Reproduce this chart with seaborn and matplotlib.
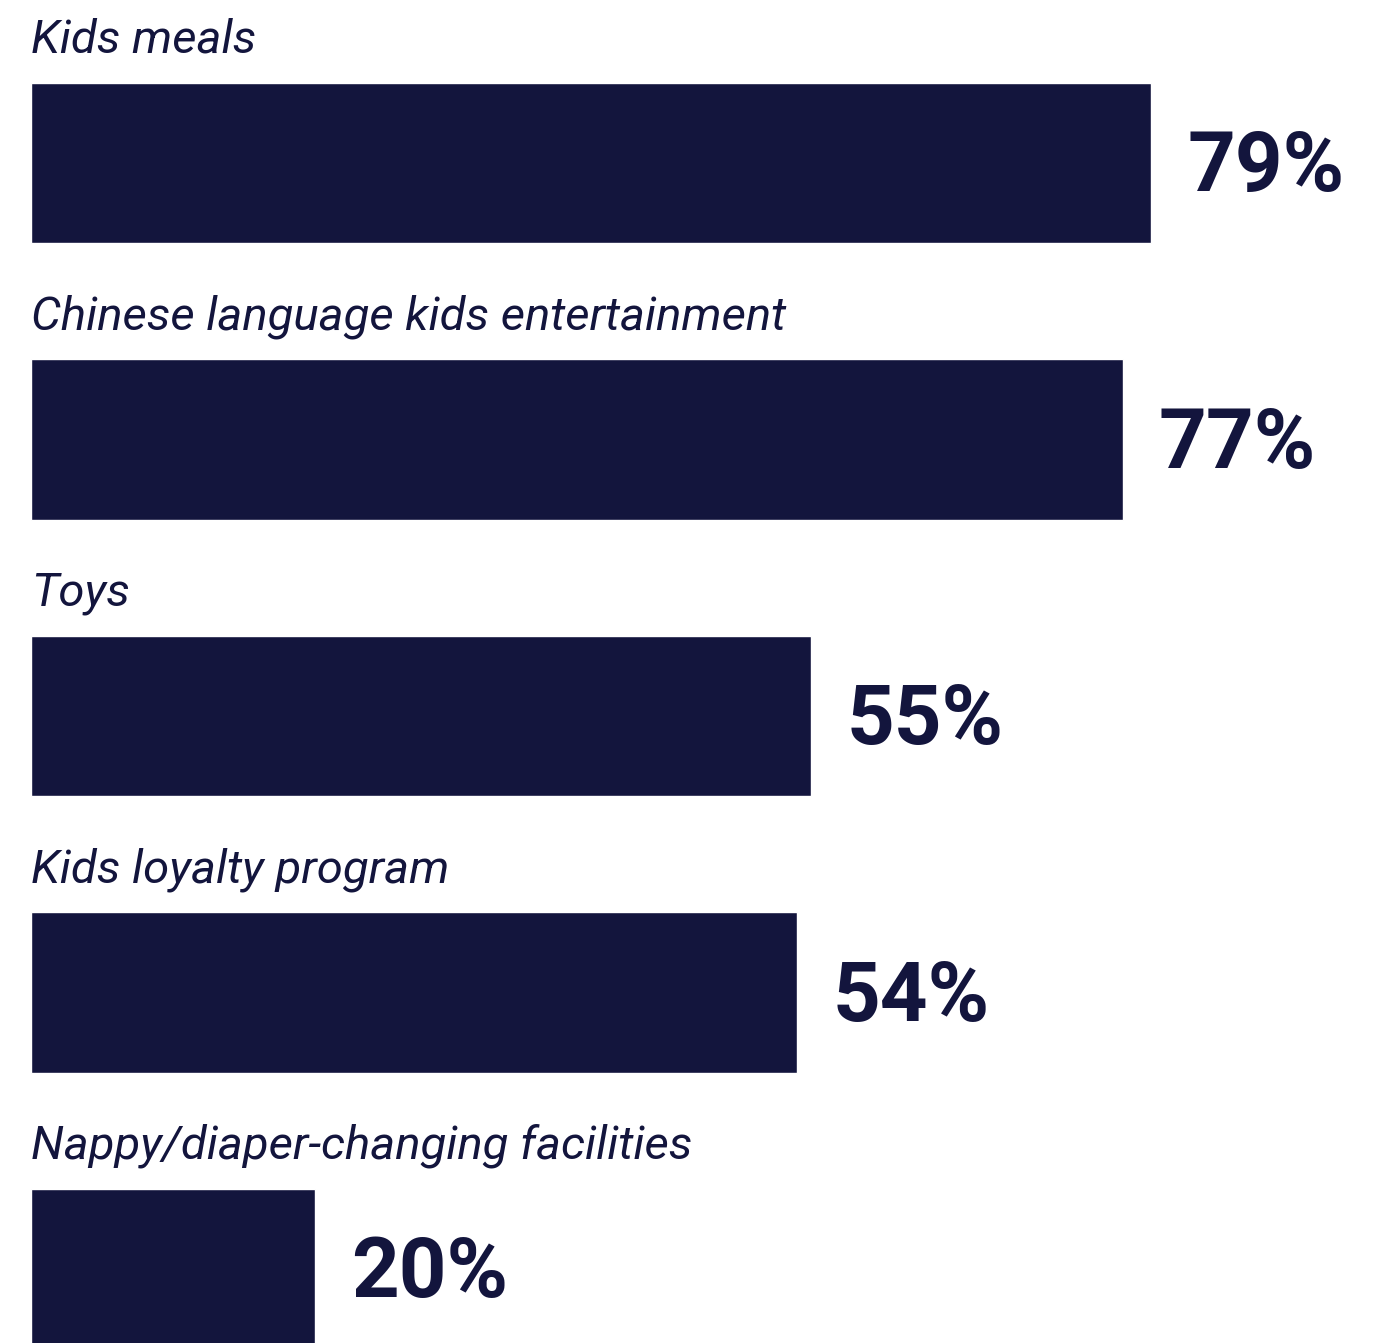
import matplotlib
matplotlib.use("Agg")
import matplotlib.pyplot as plt
import seaborn as sns
import pandas as pd

# Survey results: share of respondents wanting each kids amenity
categories = [
    "Kids meals",
    "Chinese language kids entertainment",
    "Toys",
    "Kids loyalty program",
    "Nappy/diaper-changing facilities",
]
values = [79, 77, 55, 54, 20]
value_labels = ["79%", "77%", "55%", "54%", "20%"]

navy = "#13153D"

sns.set_theme(style="white")
plt.rcParams["font.family"] = ["Roboto", "DejaVu Sans"]

df = pd.DataFrame({"category": categories, "value": values})

W, H = 1391, 1343
fig = plt.figure(figsize=(W / 100, H / 100), dpi=100)
left_px = 31
ax = fig.add_axes([left_px / W, 0, 1 - left_px / W, 1])

sns.barplot(data=df, x="value", y="category", orient="h", color=navy,
            saturation=1, width=0.579, ax=ax)

px_per_unit = 14.18
ax.set_xlim(0, (W - left_px) / px_per_unit)
row_px = 276.5
first_center_px = 163
ax.set_ylim((H - first_center_px) / row_px, -first_center_px / row_px)
ax.set_axis_off()

for i, (cat, v, lab) in enumerate(zip(categories, values, value_labels)):
    # category label sits just above its bar
    ax.text(0.0, i - 0.2895 - 30 / row_px, cat, ha="left", va="baseline",
            fontsize=34, fontstyle="italic", color=navy)
    # value label to the right of the bar end
    ax.annotate(lab, xy=(v, i), xytext=(26, 2), textcoords="offset points",
                ha="left", va="center_baseline", fontsize=60,
                fontweight="bold", color=navy)

fig.savefig("out.png", dpi=100)
